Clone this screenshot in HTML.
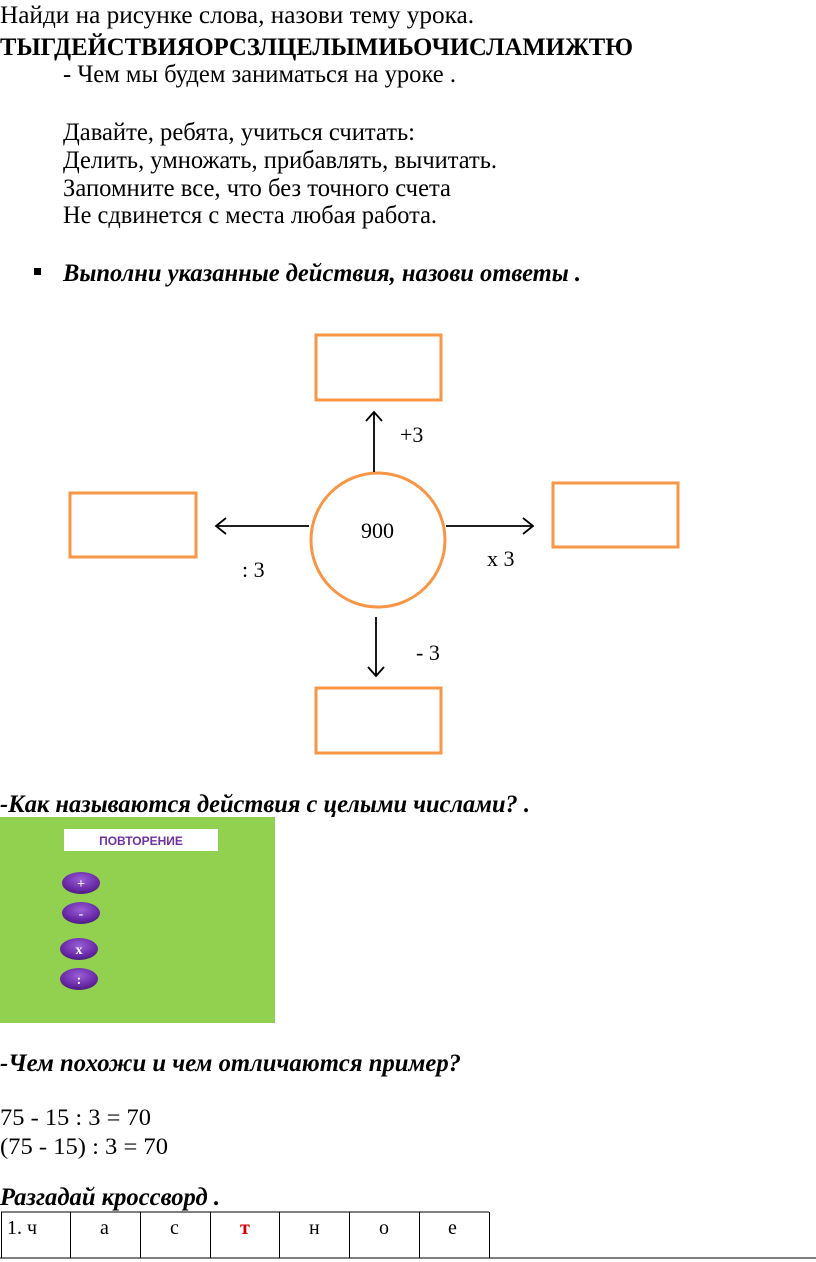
<!DOCTYPE html>
<html><head><meta charset="utf-8"><style>
html,body{margin:0;padding:0;background:#fff;}
svg{display:block;}
text{font-family:"Liberation Serif","Noto Serif CJK SC",serif;fill:#000;}
</style></head><body>
<svg width="816" height="1262" viewBox="0 0 816 1262" xmlns="http://www.w3.org/2000/svg">
<defs>
<radialGradient id="pg" cx="50%" cy="35%" r="65%">
<stop offset="0" stop-color="#9a5fd6"/><stop offset="0.7" stop-color="#6a2aa8"/><stop offset="1" stop-color="#4b1a80"/>
</radialGradient>
</defs>
<g font-size="25">
<text x="0" y="23" textLength="474" lengthAdjust="spacingAndGlyphs">Найди на рисунке  слова,  назови тему урока.</text>
<text x="0" y="55" font-weight="bold" textLength="633" lengthAdjust="spacingAndGlyphs">ТЫГДЕЙСТВИЯОРСЗЛЦЕЛЫМИЬОЧИСЛАМИЖТЮ</text>
<text x="63" y="82" textLength="393" lengthAdjust="spacingAndGlyphs">- Чем мы будем заниматься на уроке .</text>
<text x="63" y="140" textLength="352" lengthAdjust="spacingAndGlyphs">Давайте, ребята, учиться считать:</text>
<text x="63" y="168" textLength="434" lengthAdjust="spacingAndGlyphs">Делить, умножать, прибавлять, вычитать.</text>
<text x="63" y="196" textLength="388" lengthAdjust="spacingAndGlyphs">Запомните все, что без точного счета</text>
<text x="63" y="223" textLength="374" lengthAdjust="spacingAndGlyphs">Не сдвинется с места любая работа.</text>
<rect x="34" y="268" width="7" height="7" fill="#000"/>
<text x="63" y="281" font-weight="bold" font-style="italic" textLength="518" lengthAdjust="spacingAndGlyphs">Выполни указанные действия, назови ответы .</text>
</g>
<g fill="none" stroke="#F79646" stroke-width="3">
<rect x="316" y="335" width="125" height="65"/>
<rect x="70" y="493" width="126" height="64"/>
<rect x="553" y="483" width="125" height="64"/>
<rect x="316" y="688" width="125" height="65"/>
<circle cx="378" cy="540" r="67"/>
</g>
<g stroke="#000" stroke-width="1.8" fill="none">
<line x1="374" y1="472" x2="374" y2="412"/><polyline points="366,421 374,412 382,421"/>
<line x1="309" y1="526" x2="216" y2="526"/><polyline points="226,518 216,526 226,534"/>
<line x1="446" y1="526" x2="533" y2="526"/><polyline points="523,518 533,526 523,534"/>
<line x1="376" y1="617" x2="376" y2="676"/><polyline points="368,667 376,676 384,667"/>
</g>
<g font-size="22">
<text x="400" y="442">+3</text>
<text x="361" y="538">900</text>
<text x="242" y="577">: 3</text>
<text x="487" y="566">x 3</text>
<text x="416" y="660">- 3</text>
</g>
<text x="0" y="812" font-size="25" font-weight="bold" font-style="italic" textLength="530" lengthAdjust="spacingAndGlyphs">-Как называются действия с целыми числами? .</text>
<rect x="0" y="817" width="275" height="206" fill="#92D050"/>
<rect x="64" y="829" width="154" height="22" fill="#fff"/>
<text x="141" y="845" font-size="12" font-weight="bold" text-anchor="middle" style="font-family:'Liberation Sans',sans-serif;fill:#7030A0">ПОВТОРЕНИЕ</text>
<g>
<ellipse cx="81" cy="883" rx="19" ry="11" fill="url(#pg)"/>
<ellipse cx="81" cy="913" rx="19" ry="11" fill="url(#pg)"/>
<ellipse cx="79" cy="949" rx="19" ry="11" fill="url(#pg)"/>
<ellipse cx="79" cy="979" rx="19" ry="11" fill="url(#pg)"/>
</g>
<g font-size="14" font-weight="bold" text-anchor="middle" style="font-family:'Liberation Sans',sans-serif">
<text x="81" y="888" style="fill:#fff">+</text>
<text x="81" y="918" style="fill:#fff">-</text>
<text x="79" y="954" style="fill:#fff">x</text>
<text x="79" y="984" style="fill:#fff">:</text>
</g>
<text x="0" y="1071" font-size="25" font-weight="bold" font-style="italic" textLength="461" lengthAdjust="spacingAndGlyphs">-Чем похожи и чем отличаются пример?</text>
<text x="0" y="1125" font-size="23" textLength="151" lengthAdjust="spacingAndGlyphs">75 - 15 : 3 = 70</text>
<text x="0" y="1154" font-size="23" textLength="168" lengthAdjust="spacingAndGlyphs">(75 - 15) : 3 = 70</text>
<text x="0" y="1205" font-size="25" font-weight="bold" font-style="italic" textLength="220" lengthAdjust="spacingAndGlyphs">Разгадай кроссворд .</text>
<g stroke="#000" stroke-width="1" fill="none">
<line x1="1" y1="1212" x2="489" y2="1212"/>
<line x1="0" y1="1258" x2="816" y2="1258"/>
<line x1="1.5" y1="1212" x2="1.5" y2="1258"/>
<line x1="70.5" y1="1212" x2="70.5" y2="1258"/>
<line x1="140.5" y1="1212" x2="140.5" y2="1258"/>
<line x1="210.5" y1="1212" x2="210.5" y2="1258"/>
<line x1="279.5" y1="1212" x2="279.5" y2="1258"/>
<line x1="349.5" y1="1212" x2="349.5" y2="1258"/>
<line x1="419.5" y1="1212" x2="419.5" y2="1258"/>
<line x1="489.5" y1="1212" x2="489.5" y2="1258"/>
</g>
<g font-size="20">
<text x="7" y="1234">1. ч</text>
<text x="100" y="1234">а</text>
<text x="170" y="1234">с</text>
<text x="240" y="1234" font-weight="bold" style="fill:#d00000">т</text>
<text x="309" y="1234">н</text>
<text x="379" y="1234">о</text>
<text x="448" y="1234">е</text>
</g>
</svg>
</body></html>
